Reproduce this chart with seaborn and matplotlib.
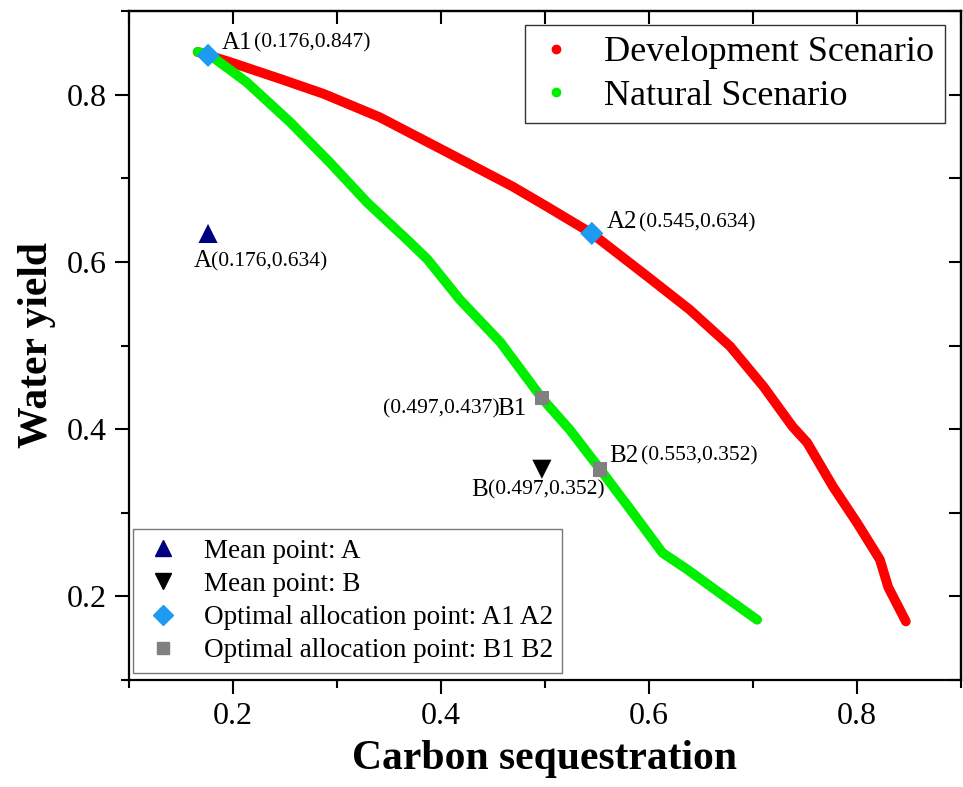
import matplotlib
matplotlib.use("Agg")
import matplotlib.pyplot as plt
from matplotlib.lines import Line2D
import seaborn as sns
import pandas as pd

# ---- data ----
dev_x = [0.166, 0.197, 0.245, 0.287, 0.341, 0.406, 0.469, 0.502, 0.545, 0.598,
         0.639, 0.678, 0.710, 0.738, 0.752, 0.777, 0.800, 0.822, 0.830, 0.847]
dev_y = [0.851, 0.839, 0.819, 0.801, 0.773, 0.731, 0.690, 0.666, 0.634, 0.583,
         0.543, 0.499, 0.451, 0.403, 0.384, 0.331, 0.288, 0.244, 0.211, 0.170]
nat_x = [0.166, 0.176, 0.213, 0.255, 0.293, 0.329, 0.367, 0.387, 0.418, 0.457,
         0.497, 0.524, 0.553, 0.582, 0.613, 0.637, 0.668, 0.704]
nat_y = [0.851, 0.849, 0.815, 0.767, 0.719, 0.671, 0.627, 0.603, 0.555, 0.504,
         0.437, 0.399, 0.352, 0.304, 0.252, 0.232, 0.204, 0.172]

mean_a = (0.176, 0.634)
mean_b = (0.497, 0.352)
opt_a_x = [0.176, 0.545]
opt_a_y = [0.847, 0.634]
opt_b_x = [0.497, 0.553]
opt_b_y = [0.437, 0.352]

series_names = ["Development Scenario", "Natural Scenario"]
legend2_labels = ["Mean point: A", "Mean point: B",
                  "Optimal allocation point: A1 A2", "Optimal allocation point: B1 B2"]

sns.set_style("ticks")
plt.rcParams["font.family"] = ["Liberation Serif", "DejaVu Serif"]
for k in ["text.color", "axes.labelcolor", "xtick.color", "ytick.color",
          "xtick.labelcolor", "ytick.labelcolor"]:
    plt.rcParams[k] = "black"

fig = plt.figure(figsize=(9.63, 7.87), dpi=100)
ax = fig.add_axes([129 / 963, 107 / 787, 832 / 963, 669 / 787])

RED = "#FF0000"
GREEN = "#00EE00"
BLUE = "#1E9BF0"
GRAY = "#808080"
NAVY = "#000080"

df_dev = pd.DataFrame({"x": dev_x, "y": dev_y})
df_nat = pd.DataFrame({"x": nat_x, "y": nat_y})
sns.lineplot(data=df_dev, x="x", y="y", sort=False, estimator=None, ax=ax,
             color=RED, linewidth=7, solid_capstyle="round", solid_joinstyle="round", zorder=2)
sns.lineplot(data=df_nat, x="x", y="y", sort=False, estimator=None, ax=ax,
             color=GREEN, linewidth=7, solid_capstyle="round", solid_joinstyle="round", zorder=3)

sns.scatterplot(x=[mean_a[0]], y=[mean_a[1]], marker="^", s=190, color=NAVY,
                edgecolor="none", ax=ax, zorder=5)
sns.scatterplot(x=[mean_b[0]], y=[mean_b[1]], marker="v", s=190, color="black",
                edgecolor="none", ax=ax, zorder=5)
sns.scatterplot(x=opt_a_x, y=opt_a_y, marker="D", s=140, color=BLUE,
                edgecolor="none", ax=ax, zorder=6)
sns.scatterplot(x=opt_b_x, y=opt_b_y, marker="s", s=110, color=GRAY,
                edgecolor="none", ax=ax, zorder=6)

# ---- annotations ----
BIG = 18
SMALL = 15.5
P = 0.72  # px -> pt

def label(pt, dx, dy, text, size, ha):
    ax.annotate(text, xy=pt, xytext=(dx * P, dy * P), textcoords="offset points",
                ha=ha, va="center", fontsize=size, color="black", zorder=7)

pA1 = (opt_a_x[0], opt_a_y[0])
pA2 = (opt_a_x[1], opt_a_y[1])
pB1 = (opt_b_x[0], opt_b_y[0])
pB2 = (opt_b_x[1], opt_b_y[1])

label(pA1, 14, 12, "A1", BIG, "left")
label(pA1, 46, 12, "(0.176,0.847)", SMALL, "left")
label(pA2, 15, 11, "A2", BIG, "left")
label(pA2, 47, 11, "(0.545,0.634)", SMALL, "left")
label(mean_a, -14, -28, "A", BIG, "left")
label(mean_a, 3, -28, "(0.176,0.634)", SMALL, "left")
label(mean_b, -71, -21, "B", BIG, "left")
label(mean_b, -54, -21, "(0.497,0.352)", SMALL, "left")
label(pB1, -15, -11, "B1", BIG, "right")
label(pB1, -42, -11, "(0.497,0.437)", SMALL, "right")
label(pB2, 9, 13, "B2", BIG, "left")
label(pB2, 41, 13, "(0.553,0.352)", SMALL, "left")

# ---- axes ----
ax.set_xlim(0.1, 0.9)
ax.set_ylim(0.1, 0.9)
ticks_major = [0.2, 0.4, 0.6, 0.8]
ticks_minor = [0.1, 0.3, 0.5, 0.7, 0.9]
ax.set_xticks(ticks_major)
ax.set_yticks(ticks_major)
ax.set_xticks(ticks_minor, minor=True)
ax.set_yticks(ticks_minor, minor=True)
ax.set_xticklabels(["0.2", "0.4", "0.6", "0.8"])
ax.set_yticklabels(["0.2", "0.4", "0.6", "0.8"])
ax.tick_params(axis="both", which="major", direction="out", length=10, width=1.5,
               labelsize=23, pad=6, color="black", labelcolor="black")
ax.tick_params(axis="both", which="minor", direction="out", length=6, width=1.5, color="black")
for sp in ax.spines.values():
    sp.set_visible(True)
    sp.set_linewidth(1.6)
    sp.set_color("black")

all_t = [0.1, 0.2, 0.3, 0.4, 0.5, 0.6, 0.7, 0.8, 0.9]
secx = ax.secondary_xaxis("top")
secx.set_xticks(all_t)
secx.tick_params(direction="in", length=9, width=1.5, labeltop=False, color="black")
secx.spines["top"].set_linewidth(1.6)
secy = ax.secondary_yaxis("right")
secy.set_yticks(all_t)
secy.tick_params(direction="in", length=9, width=1.5, labelright=False, color="black")
secy.spines["right"].set_linewidth(1.6)

ax.set_xlabel("Carbon sequestration", fontsize=30, fontweight="bold", labelpad=6, color="black")
ax.set_ylabel("Water yield", fontsize=30, fontweight="bold", labelpad=8, color="black")

# ---- legends ----
h1 = [Line2D([], [], marker="o", linestyle="none", color=RED, markersize=6),
      Line2D([], [], marker="o", linestyle="none", color=GREEN, markersize=6)]
leg1 = ax.legend(h1, series_names, loc="upper right", bbox_to_anchor=(0.981, 0.979),
                 fontsize=26, frameon=True, fancybox=False, edgecolor="#333333",
                 framealpha=1, handlelength=1.1, handletextpad=0.8, borderpad=0.3,
                 labelspacing=0.28, borderaxespad=0)
leg1.get_frame().set_linewidth(1.0)
for t in leg1.get_texts():
    t.set_color("black")
ax.add_artist(leg1)

h2 = [Line2D([], [], marker="^", linestyle="none", color=NAVY, markersize=12),
      Line2D([], [], marker="v", linestyle="none", color="black", markersize=12),
      Line2D([], [], marker="D", linestyle="none", color=BLUE, markersize=10),
      Line2D([], [], marker="s", linestyle="none", color=GRAY, markersize=9)]
leg2 = ax.legend(h2, legend2_labels, loc="lower left", bbox_to_anchor=(0.005, 0.011),
                 fontsize=19.5, frameon=True, fancybox=False, edgecolor="#777777",
                 framealpha=1, handlelength=1.5, handletextpad=0.75, borderpad=0.35,
                 labelspacing=0.3, borderaxespad=0)
leg2.get_frame().set_linewidth(1.0)
for t in leg2.get_texts():
    t.set_color("black")

fig.savefig("out.png", dpi=100)
